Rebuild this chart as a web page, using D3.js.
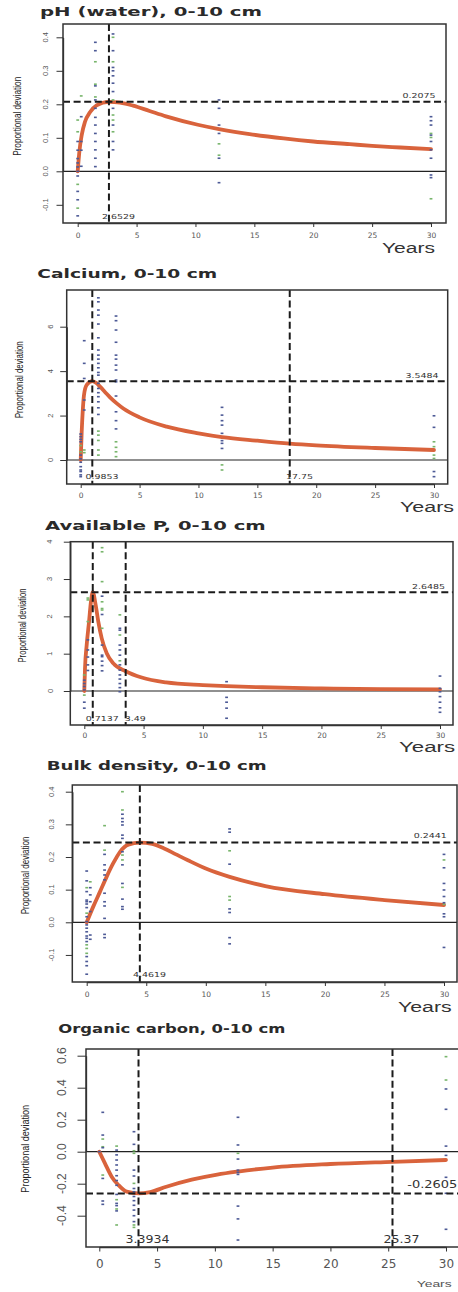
<!DOCTYPE html>
<html><head><meta charset="utf-8">
<script src="https://cdn.jsdelivr.net/npm/d3@7/dist/d3.min.js"></script>
<style>body{margin:0;background:#fff}svg{display:block}</style>
</head><body>
<script>
// ---------------- DATA ----------------
const years = [0, 0.3, 1.5, 3, 12, 30];
const xTicks = [0, 5, 10, 15, 20, 25, 30];
const xTickLabels = ["0", "5", "10", "15", "20", "25", "30"];

// pH (water)
const phTitle = "pH (water), 0-10 cm";
const phYTicks = [-0.1, 0, 0.1, 0.2, 0.3, 0.4];
const phYLabels = ["-0.1", "0.0", "0.1", "0.2", "0.3", "0.4"];
const phBlue = [
  [0.089, 0.063, 0.038, 0.025, 0.013, 0.0, -0.014, -0.06, -0.085, -0.133],
  [0.163, 0.089, 0.063, 0.015],
  [0.385, 0.36, 0.255, 0.213, 0.188, 0.161, 0.138, 0.113, 0.089, 0.064, 0.039, 0.014],
  [0.41, 0.36, 0.31, 0.3, 0.285, 0.263, 0.238, 0.188, 0.138, 0.089, 0.064],
  [0.213, 0.188, 0.138, 0.113, 0.039, -0.034],
  [0.163, 0.151, 0.138, 0.108, 0.089, 0.064, 0.039, -0.011, -0.019]
];
const phGreen = [
  [0.153, 0.118, -0.039, -0.11],
  [0.225],
  [0.327, 0.26, 0.222],
  [0.4, 0.327, 0.213, 0.168, 0.153, 0.118],
  [0.082, 0.048],
  [0.113, 0.101, -0.082]
];
const phCurve = [[0,0],[0.05,0.022],[0.14,0.058],[0.34,0.108],[0.62,0.148],[1.04,0.176],[1.6,0.197],[2.6529,0.2075],[3.6,0.205],[4.7,0.196],[6.1,0.18],[7.5,0.164],[10.2,0.139],[12,0.126],[14.6,0.111],[17.5,0.098],[20,0.089],[23.1,0.081],[25,0.076],[27.4,0.071],[30,0.066]];
const phPeakY = 0.2075, phPeakLabel = "0.2075";
const phVLines = [2.6529], phVLabels = ["2.6529"];

// Calcium
const caTitle = "Calcium, 0-10 cm";
const caYTicks = [0, 2, 4, 6];
const caYLabels = ["0", "2", "4", "6"];
const caBlue = [
  [1.17, 1.05, 0.93, 0.82, 0.22, 0.05, -0.1, -0.3, -0.45, -0.52, -0.67, -0.75],
  [5.37, 4.35, 3.67, 2.7, 2.25],
  [7.3, 7.12, 6.75, 6.52, 6.12, 5.5, 4.95, 4.72, 4.54, 4.35, 4.15, 3.94, 3.82, 3.45, 3.22, 3.03, 2.85, 2.62, 2.35, 2.05],
  [6.48, 6.27, 5.85, 5.3, 4.72, 4.54, 4.27, 4.05, 3.6, 3.52, 2.88, 2.17, 1.77, 1.4],
  [2.37, 2.02, 1.77, 1.57, 1.2, 0.87, 0.75, 0.52],
  [1.99, 1.47, -0.52, -0.75]
];
const caGreen = [
  [0.65, 0.37],
  [0.45, 0.33],
  [1.3, 1.12, 0.88, 0.45, 0.22],
  [0.82, 0.57, 0.37, 0.15],
  [-0.22, -0.45],
  [0.82, 0.6, 0.22, 0.07]
];
const caCurve = [[0,0],[0.085,1.27],[0.17,2.18],[0.28,2.93],[0.51,3.38],[0.9853,3.5484],[1.36,3.45],[1.64,3.3],[2.2,2.98],[2.49,2.82],[3.06,2.55],[3.62,2.32],[5,1.92],[7.3,1.5],[10,1.2],[12,1.03],[15,0.87],[17.75,0.74],[20,0.66],[25,0.54],[30,0.45]];
const caPeakY = 3.5484, caPeakLabel = "3.5484";
const caVLines = [0.9853, 17.75], caVLabels = ["0.9853", "17.75"];

// Available P
const apTitle = "Available P, 0-10 cm";
const apYTicks = [0, 1, 2, 3, 4];
const apYLabels = ["0", "1", "2", "3", "4"];
const apBlue = [
  [0.29, 0.2, 0.12, 0.03, -0.3, -0.46],
  [1.37, 1.1, 0.91, 0.7, 0.55],
  [2.54, 2.05, 1.23, 0.96, 0.92, 0.8, 0.68, 0.54],
  [1.68, 1.63, 1.23, 1.1, 0.96, 0.7, 0.56, 0.43, 0.32, 0.2, 0.09, -0.02],
  [0.25, -0.17, -0.3, -0.46, -0.73],
  [0.4, 0.07, -0.02, -0.15, -0.3, -0.45, -0.57]
];
const apGreen = [
  [0.43, -0.11],
  [2.49, 2.44, 1.86],
  [3.84, 3.73, 2.93, 2.39, 2.21, 2.17, 1.68],
  [2.04, 1.5, 0.81],
  [],
  []
];
const apCurve = [[0,0],[0.06,0.61],[0.2,1.23],[0.4,1.86],[0.56,2.39],[0.7137,2.6485],[0.96,2.3],[1.18,1.86],[1.47,1.41],[1.89,1.01],[2.45,0.74],[3.49,0.53],[4.84,0.36],[6.9,0.23],[10,0.16],[12,0.13],[15,0.1],[20,0.07],[25,0.05],[30,0.045]];
const apPeakY = 2.6485, apPeakLabel = "2.6485";
const apVLines = [0.7137, 3.49], apVLabels = ["0.7137", "3.49"];

// Bulk density
const bdTitle = "Bulk density, 0-10 cm";
const bdYTicks = [-0.1, 0, 0.1, 0.2, 0.3, 0.4];
const bdYLabels = ["-0.1", "0.0", "0.1", "0.2", "0.3", "0.4"];
const bdBlue = [
  [0.157, 0.127, 0.094, 0.068, 0.063, 0.056, 0.045, 0.017, 0.002, -0.008, -0.018, -0.029, -0.042, -0.049, -0.059, -0.105, -0.12, -0.133, -0.159],
  [0.106, 0.084, 0.063, 0.033, -0.039, -0.052],
  [0.208, 0.176, 0.16, 0.145, 0.13, 0.089, 0.063, 0.05, 0.012, -0.037, -0.047],
  [0.331, 0.318, 0.308, 0.298, 0.267, 0.257, 0.216, 0.176, 0.119, 0.071, 0.048, 0.04],
  [0.286, 0.276, 0.178, 0.041, 0.03, -0.047, -0.066],
  [0.208, 0.167, 0.119, 0.099, 0.079, 0.06, 0.026, 0.017, -0.077]
];
const bdGreen = [
  [0.106, 0.028, -0.069, -0.08, -0.095],
  [0.124],
  [0.296, 0.221],
  [0.4, 0.344, 0.206, 0.191, 0.107],
  [0.219, 0.079, 0.068],
  [0.191, 0.055]
];
const bdCurve = [[0,0],[0.55,0.048],[1.12,0.094],[1.68,0.14],[2.23,0.181],[2.8,0.216],[3.5,0.238],[4.4619,0.2441],[5.5,0.24],[6.5,0.226],[7.5,0.208],[8.5,0.19],[10.1,0.163],[12,0.139],[15,0.111],[20,0.086],[25,0.068],[30,0.053]];
const bdPeakY = 0.2441, bdPeakLabel = "0.2441";
const bdVLines = [4.4619], bdVLabels = ["4.4619"];

// Organic carbon
const ocTitle = "Organic carbon, 0-10 cm";
const ocYTicks = [-0.4, -0.2, 0, 0.2, 0.4, 0.6];
const ocYLabels = ["-0.4", "-0.2", "0.0", "0.2", "0.4", "0.6"];
const ocBlue = [
  [0],
  [0.246, 0.104, 0.025, -0.167, -0.308, -0.329],
  [0.01, -0.02, -0.052, -0.083, -0.115, -0.15, -0.18, -0.21, -0.267, -0.323, -0.337, -0.37],
  [0.125, 0.046, -0.115, -0.152, -0.23, -0.25, -0.28, -0.306, -0.335, -0.365, -0.4, -0.437],
  [0.215, 0.042, -0.046, -0.115, -0.129, -0.142, -0.34, -0.42, -0.552],
  [0.392, 0.265, 0.035, -0.023, -0.16, -0.26, -0.485]
];
const ocGreen = [
  [],
  [0.079, 0.031, -0.146],
  [0.035, -0.3, -0.358, -0.458],
  [0.006, -0.01, -0.198, -0.458, -0.473],
  [-0.01],
  [0.594, 0.448]
];
const ocCurve = [[0,0],[0.49,-0.073],[1.07,-0.156],[1.65,-0.208],[2.37,-0.25],[3.3934,-0.2605],[4.4,-0.252],[5.8,-0.219],[8,-0.175],[10.2,-0.143],[12,-0.124],[15,-0.099],[20,-0.077],[25.37,-0.063],[30,-0.052]];
const ocPeakY = -0.2605, ocPeakLabel = "-0.2605";
const ocVLines = [3.3934, 25.37], ocVLabels = ["3.3934", "25.37"];

const yLabelText = "Proportional deviation";
const xLabelText = "Years";

// ---------------- STYLE / LAYOUT ----------------
const BLUE = "#4d5a96", GREEN = "#78b56c", CURVE = "#d9633c";
const SANS = "'Liberation Sans', Arial, sans-serif";
const DEJA = "'DejaVu Sans', sans-serif";

const panels = [
  { id: 1, title: phTitle, yTicks: phYTicks, yLabels: phYLabels, blue: phBlue, green: phGreen, curve: phCurve,
    peakY: phPeakY, peakLabel: phPeakLabel, vlines: phVLines, vlabels: phVLabels,
    box: {l: 63, r: 446, t: 24, b: 223}, x0: 77.7, x30: 431, yRef: [0, 0.4], yRefPx: [171.3, 37.3],
    tl: {x: 40, y: 15.5, w: 222}, yr: {x: 435, y: 253, w: 53, size: 14, fill: "#333"},
    yl: {x: 21.5, y: 116.3, w: 79}, yt: {x: 48, size: 7.5, len: 6.5}, xt: {dy: 14.7, size: 7.5, len: 4},
    an: {size: 6.8, digit: 6, dot: 3, minus: 4, hx: 435.5, hdy: -4, vdx: 9.5, vdy: -4} },
  { id: 2, title: caTitle, yTicks: caYTicks, yLabels: caYLabels, blue: caBlue, green: caGreen, curve: caCurve,
    peakY: caPeakY, peakLabel: caPeakLabel, vlines: caVLines, vlabels: caVLabels,
    box: {l: 66.7, r: 447.7, t: 290, b: 484}, x0: 80.7, x30: 434, yRef: [0, 6], yRefPx: [460, 326.7],
    tl: {x: 37.3, y: 278, w: 180}, yr: {x: 454, y: 512, w: 54, size: 14, fill: "#333"},
    yl: {x: 22.7, y: 379.7, w: 77}, yt: {x: 53, size: 7.5, len: 6.5}, xt: {dy: 13.7, size: 7.5, len: 4},
    an: {size: 6.8, digit: 6, dot: 3, minus: 4, hx: 438.5, hdy: -3.5, vdx: 9.8, vdy: -5} },
  { id: 3, title: apTitle, yTicks: apYTicks, yLabels: apYLabels, blue: apBlue, green: apGreen, curve: apCurve,
    peakY: apPeakY, peakLabel: apPeakLabel, vlines: apVLines, vlabels: apVLabels,
    box: {l: 70.3, r: 453, t: 541.7, b: 725}, x0: 84.3, x30: 440, yRef: [0, 4], yRefPx: [691, 541.7],
    tl: {x: 45, y: 530, w: 220.7}, yr: {x: 455, y: 752, w: 56, size: 14, fill: "#333"},
    yl: {x: 26, y: 625.5, w: 74}, yt: {x: 52.5, size: 7.5, len: 6.5}, xt: {dy: 12.7, size: 7.5, len: 4},
    an: {size: 6.8, digit: 6, dot: 3, minus: 4, hx: 445, hdy: -3.2, vdx: 9.5, vdy: -4} },
  { id: 4, title: bdTitle, yTicks: bdYTicks, yLabels: bdYLabels, blue: bdBlue, green: bdGreen, curve: bdCurve,
    peakY: bdPeakY, peakLabel: bdPeakLabel, vlines: bdVLines, vlabels: bdVLabels,
    box: {l: 72.3, r: 457, t: 785, b: 982}, x0: 86.7, x30: 444, yRef: [0, 0.4], yRefPx: [922.3, 791.7],
    tl: {x: 46.7, y: 769.7, w: 220}, yr: {x: 451.7, y: 1012, w: 53.7, size: 14, fill: "#333"},
    yl: {x: 29.4, y: 875.5, w: 77.7}, yt: {x: 54, size: 7.5, len: 6.5}, xt: {dy: 14.7, size: 7.5, len: 4},
    an: {size: 6.8, digit: 6, dot: 3, minus: 4, hx: 446.7, hdy: -4.8, vdx: 9.7, vdy: -4.7} },
  { id: 5, title: ocTitle, yTicks: ocYTicks, yLabels: ocYLabels, blue: ocBlue, green: ocGreen, curve: ocCurve,
    peakY: ocPeakY, peakLabel: ocPeakLabel, vlines: ocVLines, vlabels: ocVLabels,
    box: {l: 86, r: 462, t: 1049, b: 1247}, x0: 99.3, x30: 446, yRef: [0, 0.6], yRefPx: [1151.7, 1055.7],
    tl: {x: 58.3, y: 1033, w: 227}, yr: {x: 451.7, y: 1287, w: 35, size: 9.5, fill: "#555"},
    yl: {x: 29.4, y: 1148.8, w: 87.7}, yt: {x: 66, size: 12, len: 8.5}, xt: {dy: 21, size: 12, len: 4.5},
    an: {size: 10.5, digit: 8, dot: 4, minus: 6, hx: 457.3, hdy: -5, vdx: 9, vdy: -3.8} }
];

// ---------------- DRAW ----------------
const svg = d3.select("body").append("svg").attr("width", 458).attr("height", 1292);
const defs = svg.append("defs");

function addText(g, s, o) {
  const t = g.append("text").text(s)
    .attr("x", o.x).attr("y", o.y)
    .attr("font-family", o.family || SANS)
    .attr("font-size", o.size)
    .attr("fill", o.fill || "#333")
    .attr("text-anchor", o.anchor || "start");
  if (o.weight) t.attr("font-weight", o.weight);
  if (o.width) t.attr("textLength", o.width).attr("lengthAdjust", "spacingAndGlyphs");
  if (o.rotate) t.attr("transform", `rotate(${o.rotate},${o.x},${o.y})`);
  return t;
}

function annWidth(s, an) {
  let w = 0;
  for (const ch of s) w += ch === "." ? an.dot : ch === "-" ? an.minus : an.digit;
  return w;
}

function drawPanel(p) {
  const g = svg.append("g");
  const b = p.box;
  const x = d3.scaleLinear().domain([0, 30]).range([p.x0, p.x30]);
  const y = d3.scaleLinear().domain(p.yRef).range(p.yRefPx);

  const clipId = "clip" + p.id;
  defs.append("clipPath").attr("id", clipId).append("rect")
    .attr("x", b.l).attr("y", b.t).attr("width", b.r - b.l).attr("height", b.b - b.t);
  const inner = g.append("g").attr("clip-path", `url(#${clipId})`);

  // zero reference line
  inner.append("line").attr("x1", b.l).attr("x2", b.r).attr("y1", y(0)).attr("y2", y(0))
    .attr("stroke", "#222").attr("stroke-width", 1.2);

  // fitted curve
  inner.append("path").datum(p.curve)
    .attr("d", d3.line().x(d => x(d[0])).y(d => y(d[1])).curve(d3.curveMonotoneX))
    .attr("fill", "none").attr("stroke", CURVE).attr("stroke-width", 3.8)
    .attr("stroke-linecap", "round").attr("stroke-linejoin", "round");

  // observations
  const pts = [];
  years.forEach((t, i) => {
    p.green[i].forEach(v => pts.push({t, v, c: GREEN}));
    p.blue[i].forEach(v => pts.push({t, v, c: BLUE}));
  });
  inner.selectAll("rect.pt").data(pts).join("rect").attr("class", "pt")
    .attr("x", d => x(d.t) - 1.4).attr("y", d => y(d.v) - 0.8)
    .attr("width", 2.8).attr("height", 1.6).attr("fill", d => d.c);

  // dashed reference lines
  inner.append("line").attr("x1", b.l).attr("x2", b.r).attr("y1", y(p.peakY)).attr("y2", y(p.peakY))
    .attr("stroke", "#1b1b1b").attr("stroke-width", 2).attr("stroke-dasharray", "7,3.6");
  p.vlines.forEach(v => {
    inner.append("line").attr("x1", x(v)).attr("x2", x(v)).attr("y1", b.t).attr("y2", b.b)
      .attr("stroke", "#1b1b1b").attr("stroke-width", 2).attr("stroke-dasharray", "7,3.6");
  });

  // annotation labels
  addText(g, p.peakLabel, {x: p.an.hx, y: y(p.peakY) + p.an.hdy, size: p.an.size, family: DEJA,
    fill: "#333", anchor: "end", width: annWidth(p.peakLabel, p.an)});
  p.vlines.forEach((v, i) => {
    addText(g, p.vlabels[i], {x: x(v) + p.an.vdx, y: b.b + p.an.vdy, size: p.an.size, family: DEJA,
      fill: "#333", anchor: "middle", width: annWidth(p.vlabels[i], p.an)});
  });

  // frame
  g.append("rect").attr("x", b.l).attr("y", b.t).attr("width", b.r - b.l).attr("height", b.b - b.t)
    .attr("fill", "none").attr("stroke", "#333").attr("stroke-width", 1.5);

  // x axis
  const xa = g.append("g").attr("transform", `translate(0,${b.b})`)
    .call(d3.axisBottom(x).tickValues(xTicks).tickFormat((d, i) => xTickLabels[i])
      .tickSize(p.xt.len).tickSizeOuter(0));
  xa.select(".domain").attr("stroke", "#333").attr("stroke-width", 1.3);
  xa.selectAll(".tick line").attr("stroke", "#333").attr("stroke-width", 1);
  xa.selectAll(".tick text").attr("y", p.xt.dy).attr("dy", null)
    .attr("font-family", DEJA).attr("font-size", p.xt.size).attr("fill", "#555");

  // y axis
  const ya = g.append("g").attr("transform", `translate(${b.l},0)`)
    .call(d3.axisLeft(y).tickValues(p.yTicks).tickFormat("").tickSize(p.yt.len).tickSizeOuter(0));
  ya.select(".domain").attr("stroke", "#333").attr("stroke-width", 1.3);
  ya.selectAll(".tick line").attr("stroke", "#333").attr("stroke-width", 1);
  p.yTicks.forEach((v, i) => {
    addText(g, p.yLabels[i], {x: p.yt.x, y: y(v), size: p.yt.size, fill: "#555",
      anchor: "middle", rotate: -90});
  });

  // titles and axis labels
  addText(g, p.title, {x: p.tl.x, y: p.tl.y, size: 12.5, weight: "bold", family: DEJA,
    fill: "#2a2a2a", width: p.tl.w});
  addText(g, xLabelText, {x: p.yr.x, y: p.yr.y, size: p.yr.size, fill: p.yr.fill,
    anchor: "end", width: p.yr.w});
  addText(g, yLabelText, {x: p.yl.x, y: p.yl.y, size: 11, fill: "#222",
    anchor: "middle", rotate: -90, width: p.yl.w});
}

panels.forEach(drawPanel);
</script>
</body></html>
